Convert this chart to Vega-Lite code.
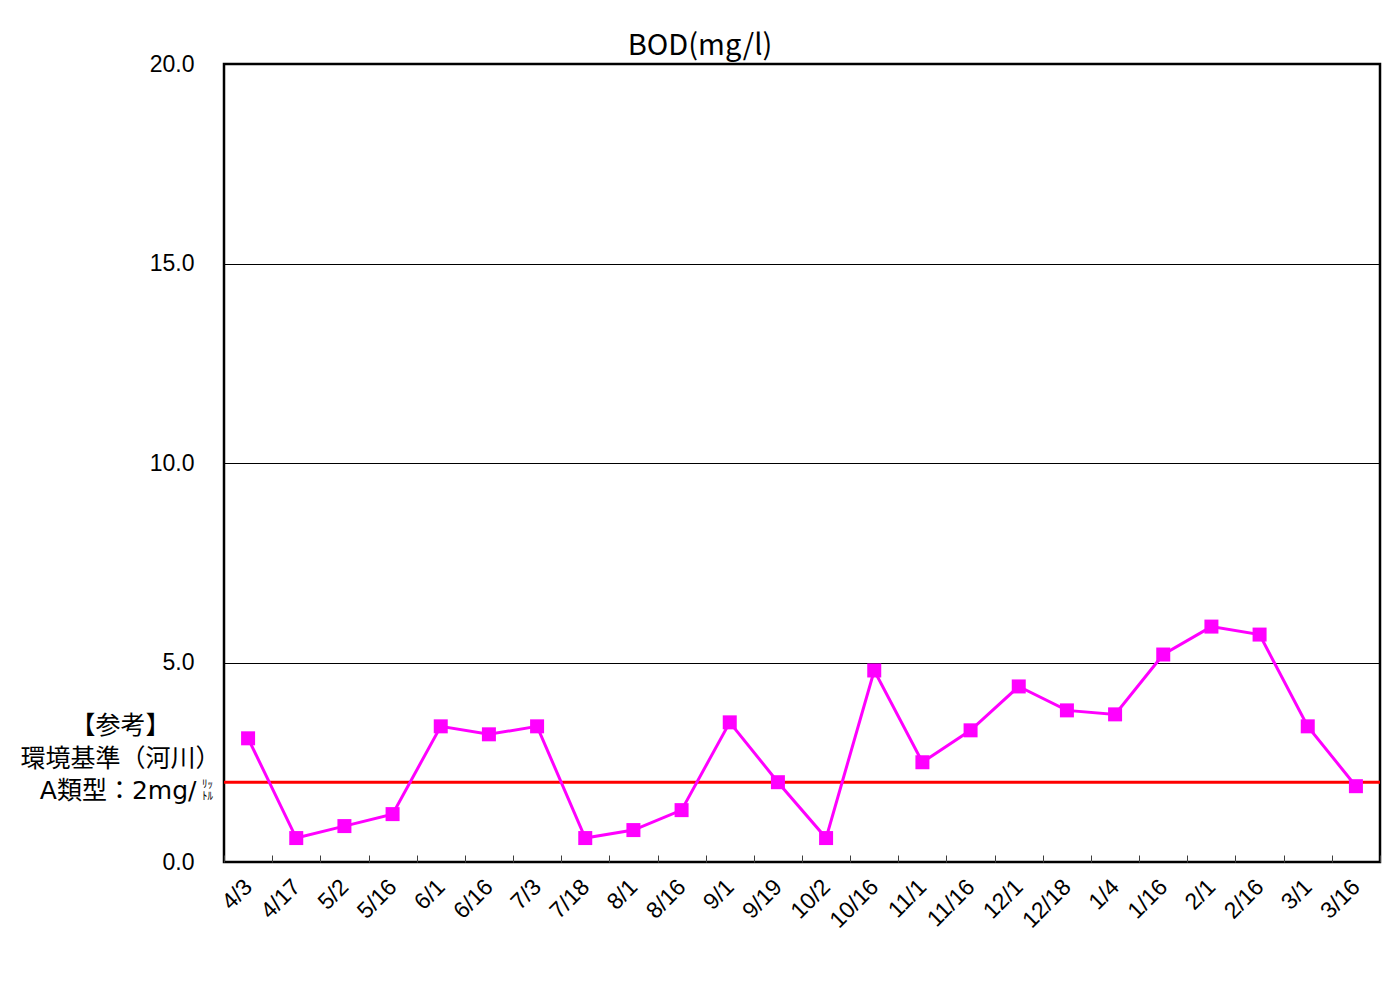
{
  "$schema": "https://vega.github.io/schema/vega-lite/v6.json",
  "width": 1156,
  "height": 798,
  "autosize": {"type": "none"},
  "padding": {"left": 224, "top": 64, "right": 17, "bottom": 129},
  "background": "white",
  "config": {
    "view": {"stroke": "black", "strokeWidth": 2.5},
    "font": "Liberation Sans"
  },
  "title": {
    "text": "BOD(mg/l)",
    "font": "Noto Sans CJK JP",
    "fontSize": 29,
    "fontWeight": "normal",
    "color": "black",
    "anchor": "middle",
    "frame": "group",
    "dx": -102,
    "offset": -8
  },
  "data": {
    "values": [
      {"date": "4/3", "bod": 3.1},
      {"date": "4/17", "bod": 0.6},
      {"date": "5/2", "bod": 0.9},
      {"date": "5/16", "bod": 1.2},
      {"date": "6/1", "bod": 3.4},
      {"date": "6/16", "bod": 3.2},
      {"date": "7/3", "bod": 3.4},
      {"date": "7/18", "bod": 0.6},
      {"date": "8/1", "bod": 0.8},
      {"date": "8/16", "bod": 1.3},
      {"date": "9/1", "bod": 3.5},
      {"date": "9/19", "bod": 2.0},
      {"date": "10/2", "bod": 0.6},
      {"date": "10/16", "bod": 4.8},
      {"date": "11/1", "bod": 2.5},
      {"date": "11/16", "bod": 3.3},
      {"date": "12/1", "bod": 4.4},
      {"date": "12/18", "bod": 3.8},
      {"date": "1/4", "bod": 3.7},
      {"date": "1/16", "bod": 5.2},
      {"date": "2/1", "bod": 5.9},
      {"date": "2/16", "bod": 5.7},
      {"date": "3/1", "bod": 3.4},
      {"date": "3/16", "bod": 1.9}
    ]
  },
  "layer": [
    {
      "data": {"values": [{"standard": 2}]},
      "mark": {"type": "rule", "color": "#FF0000", "strokeWidth": 3},
      "encoding": {
        "y": {
          "field": "standard",
          "type": "quantitative",
          "scale": {"domain": [0, 20]},
          "axis": {
            "orient": "left",
            "labels": false,
            "ticks": false,
            "domain": false,
            "grid": false,
            "title": ["ﾘｯ", "ﾄﾙ"],
            "titleFont": "Noto Sans CJK JP",
            "titleFontSize": 11,
            "titleFontWeight": "normal",
            "titleColor": "black",
            "titleAngle": 0,
            "titleAlign": "center",
            "titleBaseline": "alphabetic",
            "titleX": -17,
            "titleY": 723,
            "titleLineHeight": 12
          }
        }
      }
    },
    {
      "mark": {"type": "line", "color": "#FF00FF", "strokeWidth": 3},
      "encoding": {
        "x": {
          "field": "date",
          "type": "nominal",
          "sort": null,
          "scale": {"type": "band", "paddingInner": 0, "paddingOuter": 0},
          "axis": {
            "title": null,
            "domain": false,
            "grid": false,
            "ticks": true,
            "tickBand": "extent",
            "tickSize": -7,
            "tickColor": "#404040",
            "tickWidth": 1,
            "labelAngle": -45,
            "labelAlign": "right",
            "labelBaseline": "middle",
            "labelFontSize": 23,
            "labelColor": "black",
            "labelPadding": 28
          }
        },
        "y": {
          "field": "bod",
          "type": "quantitative",
          "scale": {"domain": [0, 20]},
          "axis": {
            "orient": "left",
            "values": [0, 5, 10, 15, 20],
            "format": ".1f",
            "labelFontSize": 23,
            "labelColor": "black",
            "labelPadding": 30,
            "ticks": false,
            "domain": false,
            "grid": true,
            "gridColor": "black",
            "gridWidth": 1,
            "gridOpacity": 1,
            "title": ["【参考】", "環境基準（河川）"],
            "titleFont": "Noto Sans CJK JP",
            "titleFontSize": 25,
            "titleFontWeight": "normal",
            "titleColor": "black",
            "titleAngle": 0,
            "titleAlign": "center",
            "titleBaseline": "alphabetic",
            "titleX": -104,
            "titleY": 669,
            "titleLineHeight": 33
          }
        }
      }
    },
    {
      "mark": {"type": "point", "shape": "square", "filled": true, "size": 196, "color": "#FF00FF", "opacity": 1},
      "encoding": {
        "x": {
          "field": "date",
          "type": "nominal",
          "sort": null
        },
        "y": {
          "field": "bod",
          "type": "quantitative",
          "scale": {"domain": [0, 20]},
          "axis": {
            "orient": "left",
            "labels": false,
            "ticks": false,
            "domain": false,
            "grid": false,
            "title": "A類型：2mg/",
            "titleFont": "DejaVu Sans, Noto Sans CJK JP",
            "titleFontSize": 25,
            "titleFontWeight": "normal",
            "titleColor": "black",
            "titleAngle": 0,
            "titleAlign": "right",
            "titleBaseline": "alphabetic",
            "titleX": -28,
            "titleY": 734
          }
        }
      }
    }
  ],
  "resolve": {"axis": {"y": "independent"}}
}
